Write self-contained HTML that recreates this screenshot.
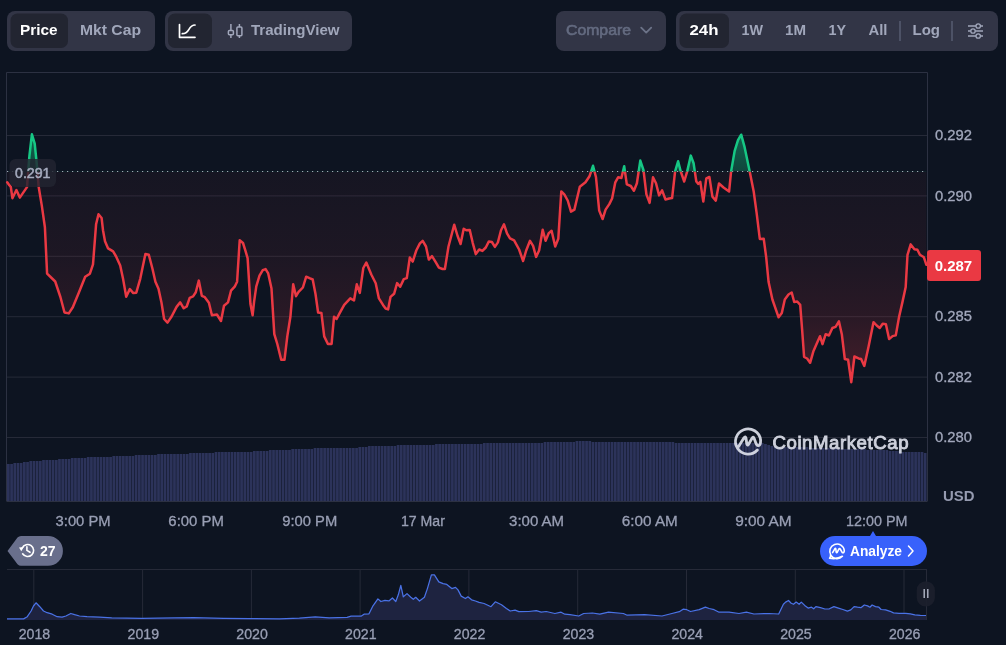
<!DOCTYPE html>
<html><head><meta charset="utf-8"><title>Chart</title>
<style>
html,body{margin:0;padding:0;background:#0d1421;width:1006px;height:645px;overflow:hidden}
body{position:relative;font-family:"Liberation Sans",Arial,sans-serif}
svg{position:absolute;left:0;top:0;display:block}
</style></head><body>
<svg width="1006" height="645" viewBox="0 0 1006 645" font-family="Liberation Sans, Arial, sans-serif">
<defs>
<linearGradient id="gr" x1="0" y1="171.5" x2="0" y2="385" gradientUnits="userSpaceOnUse">
<stop offset="0" stop-color="#ea3943" stop-opacity="0.04"/>
<stop offset="0.42" stop-color="#ea3943" stop-opacity="0.075"/>
<stop offset="0.7" stop-color="#ea3943" stop-opacity="0.135"/>
<stop offset="1" stop-color="#ea3943" stop-opacity="0.27"/>
</linearGradient>
<linearGradient id="gg" x1="0" y1="171.5" x2="0" y2="134" gradientUnits="userSpaceOnUse">
<stop offset="0" stop-color="#16c784" stop-opacity="0.28"/>
<stop offset="1" stop-color="#16c784" stop-opacity="0.45"/>
</linearGradient>
<clipPath id="above"><rect x="0" y="0" width="1006" height="171.5"/></clipPath>
<clipPath id="below"><rect x="0" y="171.5" width="1006" height="600"/></clipPath>
<clipPath id="plot"><rect x="7" y="73" width="920" height="428"/></clipPath>
</defs>

<!-- top controls -->
<rect x="7" y="11" width="148" height="40" rx="8" fill="#323546"/>
<rect x="10.5" y="13.5" width="57.5" height="34.5" rx="7" fill="#222531"/>
<text x="20" y="35" font-size="15" font-weight="bold" fill="#ffffff" textLength="37.5" lengthAdjust="spacingAndGlyphs">Price</text>
<text x="80" y="35" font-size="15" font-weight="bold" fill="#a1a7bb" textLength="61" lengthAdjust="spacingAndGlyphs">Mkt Cap</text>

<rect x="165" y="11" width="187" height="40" rx="8" fill="#323546"/>
<rect x="168" y="13.5" width="44" height="34.5" rx="7" fill="#222531"/>
<path d="M179.5 24.5 V37.3 H195 M182.3 33.7 C185.5 33.7 187.3 32.2 188.8 29.6 C190.3 27 191.8 25 195 25" fill="none" stroke="#ffffff" stroke-width="1.7" stroke-linecap="round" stroke-linejoin="round"/>
<g fill="none" stroke="#a1a7bb" stroke-width="1.5">
<path d="M230.9 24 V30.5 M230.9 34.7 V38"/><rect x="228.4" y="30.5" width="5" height="4.2" rx="1"/>
<path d="M239.4 24 V27 M239.4 35.8 V38"/><rect x="236.9" y="27" width="5" height="8.8" rx="1"/>
</g>
<text x="251" y="35" font-size="15" font-weight="bold" fill="#a1a7bb" textLength="88.5" lengthAdjust="spacingAndGlyphs">TradingView</text>

<rect x="556" y="11" width="110" height="40" rx="8" fill="#323546"/>
<text x="566" y="35" font-size="15" fill="#646b80" stroke="#646b80" stroke-width="0.6" textLength="65" lengthAdjust="spacingAndGlyphs">Compare</text>
<path d="M641.2 27.6 L646.2 32.6 L651.2 27.6" fill="none" stroke="#6c7388" stroke-width="1.8" stroke-linecap="round" stroke-linejoin="round"/>

<rect x="676" y="11" width="322" height="40" rx="8" fill="#323546"/>
<rect x="679.5" y="13.5" width="49.5" height="34.5" rx="7" fill="#222531"/>
<g font-size="15" font-weight="bold" fill="#a1a7bb">
<text x="689.5" y="35" fill="#ffffff" textLength="29" lengthAdjust="spacingAndGlyphs">24h</text>
<text x="741.5" y="35" textLength="21.5" lengthAdjust="spacingAndGlyphs">1W</text>
<text x="785" y="35" textLength="21" lengthAdjust="spacingAndGlyphs">1M</text>
<text x="828.5" y="35" textLength="17.5" lengthAdjust="spacingAndGlyphs">1Y</text>
<text x="868.5" y="35" textLength="19" lengthAdjust="spacingAndGlyphs">All</text>
<text x="912.5" y="35" textLength="27.5" lengthAdjust="spacingAndGlyphs">Log</text>
</g>
<rect x="899" y="21" width="2" height="20" fill="#4d5266"/>
<rect x="951" y="21" width="2" height="20" fill="#4d5266"/>
<g stroke="#a1a7bb" stroke-width="1.3" fill="none">
<path d="M968 26 H976 M980.4 26 H983 M968 31 H970.8 M975.2 31 H983 M968 36 H976 M980.4 36 H983"/>
<circle cx="978.2" cy="26" r="2.2"/><circle cx="973" cy="31" r="2.2"/><circle cx="978.2" cy="36" r="2.2"/>
</g>

<!-- chart frame & grid -->
<g stroke="#262a38" stroke-width="1"><line x1="7" y1="135.5" x2="927" y2="135.5"/><line x1="7" y1="195.9" x2="927" y2="195.9"/><line x1="7" y1="256.3" x2="927" y2="256.3"/><line x1="7" y1="316.7" x2="927" y2="316.7"/><line x1="7" y1="377.1" x2="927" y2="377.1"/><line x1="7" y1="437.5" x2="927" y2="437.5"/></g>
<g fill="#2c335a" clip-path="url(#plot)"><rect x="7.00" y="464" width="2.74" height="37"/><rect x="10.19" y="464" width="2.74" height="37"/><rect x="13.39" y="463" width="2.74" height="38"/><rect x="16.58" y="463" width="2.74" height="38"/><rect x="19.78" y="463" width="2.74" height="38"/><rect x="22.97" y="462" width="2.74" height="39"/><rect x="26.17" y="462" width="2.74" height="39"/><rect x="29.36" y="461" width="2.74" height="40"/><rect x="32.56" y="461" width="2.74" height="40"/><rect x="35.75" y="461" width="2.74" height="40"/><rect x="38.94" y="461" width="2.74" height="40"/><rect x="42.14" y="460" width="2.74" height="41"/><rect x="45.33" y="460" width="2.74" height="41"/><rect x="48.53" y="460" width="2.74" height="41"/><rect x="51.72" y="460" width="2.74" height="41"/><rect x="54.92" y="460" width="2.74" height="41"/><rect x="58.11" y="459" width="2.74" height="42"/><rect x="61.31" y="459" width="2.74" height="42"/><rect x="64.50" y="459" width="2.74" height="42"/><rect x="67.69" y="459" width="2.74" height="42"/><rect x="70.89" y="458" width="2.74" height="43"/><rect x="74.08" y="458" width="2.74" height="43"/><rect x="77.28" y="458" width="2.74" height="43"/><rect x="80.47" y="458" width="2.74" height="43"/><rect x="83.67" y="458" width="2.74" height="43"/><rect x="86.86" y="457" width="2.74" height="44"/><rect x="90.06" y="457" width="2.74" height="44"/><rect x="93.25" y="457" width="2.74" height="44"/><rect x="96.44" y="457" width="2.74" height="44"/><rect x="99.64" y="457" width="2.74" height="44"/><rect x="102.83" y="457" width="2.74" height="44"/><rect x="106.03" y="457" width="2.74" height="44"/><rect x="109.22" y="457" width="2.74" height="44"/><rect x="112.42" y="456" width="2.74" height="45"/><rect x="115.61" y="456" width="2.74" height="45"/><rect x="118.81" y="456" width="2.74" height="45"/><rect x="122.00" y="456" width="2.74" height="45"/><rect x="125.19" y="456" width="2.74" height="45"/><rect x="128.39" y="456" width="2.74" height="45"/><rect x="131.58" y="456" width="2.74" height="45"/><rect x="134.78" y="455" width="2.74" height="46"/><rect x="137.97" y="455" width="2.74" height="46"/><rect x="141.17" y="455" width="2.74" height="46"/><rect x="144.36" y="455" width="2.74" height="46"/><rect x="147.56" y="455" width="2.74" height="46"/><rect x="150.75" y="455" width="2.74" height="46"/><rect x="153.94" y="455" width="2.74" height="46"/><rect x="157.14" y="454" width="2.74" height="47"/><rect x="160.33" y="454" width="2.74" height="47"/><rect x="163.53" y="454" width="2.74" height="47"/><rect x="166.72" y="454" width="2.74" height="47"/><rect x="169.92" y="454" width="2.74" height="47"/><rect x="173.11" y="454" width="2.74" height="47"/><rect x="176.31" y="454" width="2.74" height="47"/><rect x="179.50" y="454" width="2.74" height="47"/><rect x="182.69" y="454" width="2.74" height="47"/><rect x="185.89" y="454" width="2.74" height="47"/><rect x="189.08" y="453" width="2.74" height="48"/><rect x="192.28" y="453" width="2.74" height="48"/><rect x="195.47" y="453" width="2.74" height="48"/><rect x="198.67" y="453" width="2.74" height="48"/><rect x="201.86" y="453" width="2.74" height="48"/><rect x="205.06" y="453" width="2.74" height="48"/><rect x="208.25" y="453" width="2.74" height="48"/><rect x="211.44" y="453" width="2.74" height="48"/><rect x="214.64" y="452" width="2.74" height="49"/><rect x="217.83" y="452" width="2.74" height="49"/><rect x="221.03" y="452" width="2.74" height="49"/><rect x="224.22" y="452" width="2.74" height="49"/><rect x="227.42" y="452" width="2.74" height="49"/><rect x="230.61" y="452" width="2.74" height="49"/><rect x="233.81" y="452" width="2.74" height="49"/><rect x="237.00" y="452" width="2.74" height="49"/><rect x="240.19" y="452" width="2.74" height="49"/><rect x="243.39" y="452" width="2.74" height="49"/><rect x="246.58" y="452" width="2.74" height="49"/><rect x="249.78" y="452" width="2.74" height="49"/><rect x="252.97" y="451" width="2.74" height="50"/><rect x="256.17" y="451" width="2.74" height="50"/><rect x="259.36" y="451" width="2.74" height="50"/><rect x="262.56" y="451" width="2.74" height="50"/><rect x="265.75" y="451" width="2.74" height="50"/><rect x="268.94" y="450" width="2.74" height="51"/><rect x="272.14" y="450" width="2.74" height="51"/><rect x="275.33" y="450" width="2.74" height="51"/><rect x="278.53" y="450" width="2.74" height="51"/><rect x="281.72" y="450" width="2.74" height="51"/><rect x="284.92" y="450" width="2.74" height="51"/><rect x="288.11" y="450" width="2.74" height="51"/><rect x="291.31" y="449" width="2.74" height="52"/><rect x="294.50" y="449" width="2.74" height="52"/><rect x="297.69" y="449" width="2.74" height="52"/><rect x="300.89" y="449" width="2.74" height="52"/><rect x="304.08" y="449" width="2.74" height="52"/><rect x="307.28" y="449" width="2.74" height="52"/><rect x="310.47" y="449" width="2.74" height="52"/><rect x="313.67" y="448" width="2.74" height="53"/><rect x="316.86" y="448" width="2.74" height="53"/><rect x="320.06" y="448" width="2.74" height="53"/><rect x="323.25" y="448" width="2.74" height="53"/><rect x="326.44" y="448" width="2.74" height="53"/><rect x="329.64" y="448" width="2.74" height="53"/><rect x="332.83" y="448" width="2.74" height="53"/><rect x="336.03" y="448" width="2.74" height="53"/><rect x="339.22" y="448" width="2.74" height="53"/><rect x="342.42" y="448" width="2.74" height="53"/><rect x="345.61" y="448" width="2.74" height="53"/><rect x="348.81" y="448" width="2.74" height="53"/><rect x="352.00" y="448" width="2.74" height="53"/><rect x="355.19" y="448" width="2.74" height="53"/><rect x="358.39" y="447" width="2.74" height="54"/><rect x="361.58" y="447" width="2.74" height="54"/><rect x="364.78" y="447" width="2.74" height="54"/><rect x="367.97" y="446" width="2.74" height="55"/><rect x="371.17" y="446" width="2.74" height="55"/><rect x="374.36" y="446" width="2.74" height="55"/><rect x="377.56" y="446" width="2.74" height="55"/><rect x="380.75" y="446" width="2.74" height="55"/><rect x="383.94" y="446" width="2.74" height="55"/><rect x="387.14" y="446" width="2.74" height="55"/><rect x="390.33" y="446" width="2.74" height="55"/><rect x="393.53" y="446" width="2.74" height="55"/><rect x="396.72" y="445" width="2.74" height="56"/><rect x="399.92" y="445" width="2.74" height="56"/><rect x="403.11" y="445" width="2.74" height="56"/><rect x="406.31" y="445" width="2.74" height="56"/><rect x="409.50" y="445" width="2.74" height="56"/><rect x="412.69" y="445" width="2.74" height="56"/><rect x="415.89" y="445" width="2.74" height="56"/><rect x="419.08" y="445" width="2.74" height="56"/><rect x="422.28" y="445" width="2.74" height="56"/><rect x="425.47" y="445" width="2.74" height="56"/><rect x="428.67" y="445" width="2.74" height="56"/><rect x="431.86" y="445" width="2.74" height="56"/><rect x="435.06" y="444" width="2.74" height="57"/><rect x="438.25" y="444" width="2.74" height="57"/><rect x="441.44" y="444" width="2.74" height="57"/><rect x="444.64" y="444" width="2.74" height="57"/><rect x="447.83" y="444" width="2.74" height="57"/><rect x="451.03" y="444" width="2.74" height="57"/><rect x="454.22" y="444" width="2.74" height="57"/><rect x="457.42" y="444" width="2.74" height="57"/><rect x="460.61" y="444" width="2.74" height="57"/><rect x="463.81" y="444" width="2.74" height="57"/><rect x="467.00" y="444" width="2.74" height="57"/><rect x="470.19" y="444" width="2.74" height="57"/><rect x="473.39" y="444" width="2.74" height="57"/><rect x="476.58" y="444" width="2.74" height="57"/><rect x="479.78" y="444" width="2.74" height="57"/><rect x="482.97" y="443" width="2.74" height="58"/><rect x="486.17" y="443" width="2.74" height="58"/><rect x="489.36" y="443" width="2.74" height="58"/><rect x="492.56" y="443" width="2.74" height="58"/><rect x="495.75" y="443" width="2.74" height="58"/><rect x="498.94" y="443" width="2.74" height="58"/><rect x="502.14" y="443" width="2.74" height="58"/><rect x="505.33" y="443" width="2.74" height="58"/><rect x="508.53" y="443" width="2.74" height="58"/><rect x="511.72" y="443" width="2.74" height="58"/><rect x="514.92" y="443" width="2.74" height="58"/><rect x="518.11" y="443" width="2.74" height="58"/><rect x="521.31" y="443" width="2.74" height="58"/><rect x="524.50" y="443" width="2.74" height="58"/><rect x="527.69" y="443" width="2.74" height="58"/><rect x="530.89" y="443" width="2.74" height="58"/><rect x="534.08" y="443" width="2.74" height="58"/><rect x="537.28" y="443" width="2.74" height="58"/><rect x="540.47" y="443" width="2.74" height="58"/><rect x="543.67" y="442" width="2.74" height="59"/><rect x="546.86" y="442" width="2.74" height="59"/><rect x="550.06" y="442" width="2.74" height="59"/><rect x="553.25" y="442" width="2.74" height="59"/><rect x="556.44" y="442" width="2.74" height="59"/><rect x="559.64" y="442" width="2.74" height="59"/><rect x="562.83" y="442" width="2.74" height="59"/><rect x="566.03" y="442" width="2.74" height="59"/><rect x="569.22" y="442" width="2.74" height="59"/><rect x="572.42" y="442" width="2.74" height="59"/><rect x="575.61" y="441" width="2.74" height="60"/><rect x="578.81" y="441" width="2.74" height="60"/><rect x="582.00" y="441" width="2.74" height="60"/><rect x="585.19" y="441" width="2.74" height="60"/><rect x="588.39" y="441" width="2.74" height="60"/><rect x="591.58" y="442" width="2.74" height="59"/><rect x="594.78" y="442" width="2.74" height="59"/><rect x="597.97" y="442" width="2.74" height="59"/><rect x="601.17" y="442" width="2.74" height="59"/><rect x="604.36" y="442" width="2.74" height="59"/><rect x="607.56" y="442" width="2.74" height="59"/><rect x="610.75" y="442" width="2.74" height="59"/><rect x="613.94" y="442" width="2.74" height="59"/><rect x="617.14" y="442" width="2.74" height="59"/><rect x="620.33" y="442" width="2.74" height="59"/><rect x="623.53" y="442" width="2.74" height="59"/><rect x="626.72" y="442" width="2.74" height="59"/><rect x="629.92" y="442" width="2.74" height="59"/><rect x="633.11" y="442" width="2.74" height="59"/><rect x="636.31" y="442" width="2.74" height="59"/><rect x="639.50" y="442" width="2.74" height="59"/><rect x="642.69" y="442" width="2.74" height="59"/><rect x="645.89" y="442" width="2.74" height="59"/><rect x="649.08" y="442" width="2.74" height="59"/><rect x="652.28" y="442" width="2.74" height="59"/><rect x="655.47" y="442" width="2.74" height="59"/><rect x="658.67" y="442" width="2.74" height="59"/><rect x="661.86" y="442" width="2.74" height="59"/><rect x="665.06" y="442" width="2.74" height="59"/><rect x="668.25" y="442" width="2.74" height="59"/><rect x="671.44" y="442" width="2.74" height="59"/><rect x="674.64" y="443" width="2.74" height="58"/><rect x="677.83" y="443" width="2.74" height="58"/><rect x="681.03" y="443" width="2.74" height="58"/><rect x="684.22" y="443" width="2.74" height="58"/><rect x="687.42" y="443" width="2.74" height="58"/><rect x="690.61" y="443" width="2.74" height="58"/><rect x="693.81" y="443" width="2.74" height="58"/><rect x="697.00" y="443" width="2.74" height="58"/><rect x="700.19" y="443" width="2.74" height="58"/><rect x="703.39" y="443" width="2.74" height="58"/><rect x="706.58" y="443" width="2.74" height="58"/><rect x="709.78" y="443" width="2.74" height="58"/><rect x="712.97" y="443" width="2.74" height="58"/><rect x="716.17" y="443" width="2.74" height="58"/><rect x="719.36" y="443" width="2.74" height="58"/><rect x="722.56" y="443" width="2.74" height="58"/><rect x="725.75" y="443" width="2.74" height="58"/><rect x="728.94" y="443" width="2.74" height="58"/><rect x="732.14" y="443" width="2.74" height="58"/><rect x="735.33" y="443" width="2.74" height="58"/><rect x="738.53" y="443" width="2.74" height="58"/><rect x="741.72" y="443" width="2.74" height="58"/><rect x="744.92" y="443" width="2.74" height="58"/><rect x="748.11" y="443" width="2.74" height="58"/><rect x="751.31" y="443" width="2.74" height="58"/><rect x="754.50" y="443" width="2.74" height="58"/><rect x="757.69" y="443" width="2.74" height="58"/><rect x="760.89" y="443" width="2.74" height="58"/><rect x="764.08" y="444" width="2.74" height="57"/><rect x="767.28" y="445" width="2.74" height="56"/><rect x="770.47" y="446" width="2.74" height="55"/><rect x="773.67" y="447" width="2.74" height="54"/><rect x="776.86" y="447" width="2.74" height="54"/><rect x="780.06" y="447" width="2.74" height="54"/><rect x="783.25" y="447" width="2.74" height="54"/><rect x="786.44" y="447" width="2.74" height="54"/><rect x="789.64" y="447" width="2.74" height="54"/><rect x="792.83" y="447" width="2.74" height="54"/><rect x="796.03" y="447" width="2.74" height="54"/><rect x="799.22" y="447" width="2.74" height="54"/><rect x="802.42" y="447" width="2.74" height="54"/><rect x="805.61" y="447" width="2.74" height="54"/><rect x="808.81" y="448" width="2.74" height="53"/><rect x="812.00" y="448" width="2.74" height="53"/><rect x="815.19" y="448" width="2.74" height="53"/><rect x="818.39" y="448" width="2.74" height="53"/><rect x="821.58" y="448" width="2.74" height="53"/><rect x="824.78" y="448" width="2.74" height="53"/><rect x="827.97" y="448" width="2.74" height="53"/><rect x="831.17" y="448" width="2.74" height="53"/><rect x="834.36" y="448" width="2.74" height="53"/><rect x="837.56" y="449" width="2.74" height="52"/><rect x="840.75" y="449" width="2.74" height="52"/><rect x="843.94" y="449" width="2.74" height="52"/><rect x="847.14" y="449" width="2.74" height="52"/><rect x="850.33" y="449" width="2.74" height="52"/><rect x="853.53" y="449" width="2.74" height="52"/><rect x="856.72" y="449" width="2.74" height="52"/><rect x="859.92" y="449" width="2.74" height="52"/><rect x="863.11" y="449" width="2.74" height="52"/><rect x="866.31" y="450" width="2.74" height="51"/><rect x="869.50" y="450" width="2.74" height="51"/><rect x="872.69" y="450" width="2.74" height="51"/><rect x="875.89" y="450" width="2.74" height="51"/><rect x="879.08" y="450" width="2.74" height="51"/><rect x="882.28" y="450" width="2.74" height="51"/><rect x="885.47" y="450" width="2.74" height="51"/><rect x="888.67" y="451" width="2.74" height="50"/><rect x="891.86" y="451" width="2.74" height="50"/><rect x="895.06" y="451" width="2.74" height="50"/><rect x="898.25" y="451" width="2.74" height="50"/><rect x="901.44" y="452" width="2.74" height="49"/><rect x="904.64" y="452" width="2.74" height="49"/><rect x="907.83" y="452" width="2.74" height="49"/><rect x="911.03" y="452" width="2.74" height="49"/><rect x="914.22" y="452" width="2.74" height="49"/><rect x="917.42" y="452" width="2.74" height="49"/><rect x="920.61" y="452" width="2.74" height="49"/><rect x="923.81" y="453" width="2.74" height="48"/></g>
<g fill="none" stroke="#2c3142" stroke-width="1">
<path d="M6.5 501 V72.5 H927.5 V501"/>
<line x1="6.5" y1="501.5" x2="927.5" y2="501.5"/>
</g>

<!-- watermark -->
<g opacity="0.93">
<path d="M757.4 450 A12.6 12.6 0 1 1 760.6 440 Q760.8 446 758 445.6 Q757 445.4 756 443.5 L754.2 438.5 Q753.2 436 752 438.3 L748.6 444.3 Q747.4 446.2 746.8 444 L746 438.2 Q745.4 435.8 744 437.8 L738.6 446.5" fill="none" stroke="#dcdfea" stroke-width="2.8" stroke-linecap="round" stroke-linejoin="round"/>
<text x="772.5" y="449" font-size="18.6" fill="#dcdfea" stroke="#dcdfea" stroke-width="0.9" textLength="136" lengthAdjust="spacing">CoinMarketCap</text>
</g>

<!-- price fill + line -->
<path d="M7.2 182.2 L9.3 185.2 L10.8 186.8 L12.4 198.2 L16.4 190.0 L19.8 197.6 L27.0 187.1 L29.4 156.0 L31.9 134.3 L34.7 143.6 L36.6 162.2 L38.7 187.0 L41.8 205.6 L44.9 227.3 L47.1 273.7 L51.1 277.5 L55.2 281.5 L60.4 297.0 L64.5 312.5 L68.8 313.4 L72.8 307.2 L79.0 292.3 L85.2 276.8 L89.9 273.7 L93.0 264.4 L96.1 224.2 L98.5 214.2 L101.6 218.0 L103.0 230.2 L105.0 241.3 L108.1 248.4 L113.1 251.4 L116.1 256.5 L120.2 265.5 L123.2 279.6 L126.2 296.8 L129.8 289.1 L133.3 293.1 L136.3 292.7 L140.3 278.6 L145.4 254.0 L148.8 254.8 L152.4 268.5 L155.4 281.7 L158.5 288.7 L161.5 302.8 L164.1 319.0 L167.5 322.6 L171.6 316.5 L176.6 306.9 L180.2 302.4 L183.7 308.3 L186.7 306.5 L189.7 297.8 L193.1 296.4 L195.8 292.3 L198.8 280.6 L201.8 295.8 L204.8 297.2 L208.9 302.8 L211.9 315.3 L216.9 314.5 L221.0 321.0 L224.0 305.8 L228.0 302.4 L231.0 290.7 L234.7 286.7 L237.1 281.7 L239.7 240.3 L243.0 243.0 L245.4 250.6 L247.6 258.2 L249.1 282.1 L250.4 303.8 L252.6 315.3 L254.1 301.6 L256.3 286.4 L259.5 275.6 L262.8 270.2 L265.6 269.1 L268.2 273.4 L271.5 288.6 L274.3 334.2 L277.3 344.0 L281.2 359.8 L284.5 359.8 L287.3 336.4 L290.4 316.8 L293.2 284.3 L296.0 296.2 L298.6 291.9 L302.9 287.5 L306.2 276.7 L309.5 278.2 L312.7 279.5 L315.5 294.0 L318.1 312.5 L321.4 312.9 L324.2 336.4 L327.9 344.0 L331.6 344.0 L334.0 316.8 L336.6 319.0 L339.8 312.9 L344.2 304.9 L350.3 298.4 L354.0 300.5 L356.8 284.3 L359.8 292.9 L363.3 268.0 L366.3 262.6 L371.3 274.5 L375.7 283.2 L378.9 298.4 L383.0 304.9 L385.6 308.5 L388.1 309.4 L390.5 296.9 L394.1 293.8 L397.1 283.1 L400.2 286.8 L403.8 279.1 L406.8 278.1 L409.8 257.5 L412.7 261.6 L416.3 250.5 L419.9 243.4 L422.7 240.8 L426.0 246.5 L428.8 259.6 L432.0 256.1 L435.4 261.6 L438.9 267.6 L442.5 269.0 L444.9 269.0 L448.5 246.5 L454.2 224.7 L457.6 236.0 L460.6 244.0 L463.7 228.7 L466.3 230.3 L469.7 229.9 L472.7 242.8 L475.8 254.1 L479.2 249.5 L482.4 250.9 L485.8 247.5 L488.9 241.4 L491.9 242.0 L494.9 246.9 L497.9 242.4 L501.0 230.3 L504.0 224.3 L507.0 233.3 L510.0 238.4 L514.1 240.4 L519.1 249.5 L523.1 261.0 L526.2 250.5 L530.0 240.8 L533.1 245.8 L536.1 256.9 L539.1 250.5 L542.7 229.7 L545.6 240.8 L548.8 233.1 L551.6 230.7 L555.2 246.5 L558.3 238.8 L561.3 191.4 L564.3 194.4 L567.7 200.5 L571.0 211.6 L574.4 209.6 L579.8 186.8 L585.5 182.3 L589.5 176.3 L593.0 165.8 L596.0 177.3 L599.2 210.6 L602.6 219.0 L605.6 209.6 L609.3 204.1 L612.1 198.5 L615.3 182.3 L618.1 177.3 L621.4 177.9 L624.2 166.2 L626.8 184.4 L630.8 186.0 L633.9 190.8 L636.9 183.3 L640.3 160.6 L643.5 170.2 L646.4 194.4 L649.6 202.9 L653.0 177.3 L656.0 183.3 L659.1 195.4 L662.1 190.4 L665.5 199.5 L669.2 198.5 L672.1 198.0 L675.1 171.4 L678.1 161.3 L680.7 171.4 L684.2 181.5 L687.2 171.4 L690.8 155.6 L693.6 163.3 L696.3 181.5 L698.3 183.9 L700.3 181.9 L703.3 201.6 L706.3 178.4 L709.4 177.0 L712.4 196.6 L715.8 200.6 L719.0 183.5 L723.5 187.5 L729.1 191.5 L731.1 171.4 L734.6 151.2 L738.0 140.1 L741.2 134.7 L744.6 147.2 L749.7 171.4 L753.7 191.5 L756.7 213.7 L759.8 238.9 L763.7 238.7 L766.2 257.3 L768.6 282.1 L772.4 299.5 L778.6 317.3 L781.8 313.1 L784.8 299.5 L788.5 294.5 L791.7 292.5 L794.2 302.0 L797.2 301.5 L800.2 304.9 L802.1 329.3 L804.1 357.0 L807.1 358.5 L810.1 362.8 L813.3 351.6 L817.0 342.9 L820.0 336.2 L822.5 344.1 L825.7 334.2 L828.9 335.5 L832.4 328.0 L835.6 326.8 L838.9 321.3 L841.8 334.2 L844.8 359.0 L848.1 359.8 L851.3 382.2 L854.4 356.5 L858.6 358.4 L861.1 358.9 L864.3 365.9 L868.6 346.5 L873.5 322.2 L876.7 325.5 L879.7 327.9 L882.7 323.7 L885.9 324.2 L889.1 339.1 L892.6 336.1 L895.8 335.4 L899.1 316.8 L902.5 301.9 L905.7 287.0 L907.5 254.8 L910.7 244.4 L914.4 249.3 L917.4 249.8 L919.9 254.8 L923.9 257.3 L926.3 264.7 L926.3 171.5 L7.2 171.5 Z" fill="url(#gr)" clip-path="url(#below)"/>
<path d="M7.2 182.2 L9.3 185.2 L10.8 186.8 L12.4 198.2 L16.4 190.0 L19.8 197.6 L27.0 187.1 L29.4 156.0 L31.9 134.3 L34.7 143.6 L36.6 162.2 L38.7 187.0 L41.8 205.6 L44.9 227.3 L47.1 273.7 L51.1 277.5 L55.2 281.5 L60.4 297.0 L64.5 312.5 L68.8 313.4 L72.8 307.2 L79.0 292.3 L85.2 276.8 L89.9 273.7 L93.0 264.4 L96.1 224.2 L98.5 214.2 L101.6 218.0 L103.0 230.2 L105.0 241.3 L108.1 248.4 L113.1 251.4 L116.1 256.5 L120.2 265.5 L123.2 279.6 L126.2 296.8 L129.8 289.1 L133.3 293.1 L136.3 292.7 L140.3 278.6 L145.4 254.0 L148.8 254.8 L152.4 268.5 L155.4 281.7 L158.5 288.7 L161.5 302.8 L164.1 319.0 L167.5 322.6 L171.6 316.5 L176.6 306.9 L180.2 302.4 L183.7 308.3 L186.7 306.5 L189.7 297.8 L193.1 296.4 L195.8 292.3 L198.8 280.6 L201.8 295.8 L204.8 297.2 L208.9 302.8 L211.9 315.3 L216.9 314.5 L221.0 321.0 L224.0 305.8 L228.0 302.4 L231.0 290.7 L234.7 286.7 L237.1 281.7 L239.7 240.3 L243.0 243.0 L245.4 250.6 L247.6 258.2 L249.1 282.1 L250.4 303.8 L252.6 315.3 L254.1 301.6 L256.3 286.4 L259.5 275.6 L262.8 270.2 L265.6 269.1 L268.2 273.4 L271.5 288.6 L274.3 334.2 L277.3 344.0 L281.2 359.8 L284.5 359.8 L287.3 336.4 L290.4 316.8 L293.2 284.3 L296.0 296.2 L298.6 291.9 L302.9 287.5 L306.2 276.7 L309.5 278.2 L312.7 279.5 L315.5 294.0 L318.1 312.5 L321.4 312.9 L324.2 336.4 L327.9 344.0 L331.6 344.0 L334.0 316.8 L336.6 319.0 L339.8 312.9 L344.2 304.9 L350.3 298.4 L354.0 300.5 L356.8 284.3 L359.8 292.9 L363.3 268.0 L366.3 262.6 L371.3 274.5 L375.7 283.2 L378.9 298.4 L383.0 304.9 L385.6 308.5 L388.1 309.4 L390.5 296.9 L394.1 293.8 L397.1 283.1 L400.2 286.8 L403.8 279.1 L406.8 278.1 L409.8 257.5 L412.7 261.6 L416.3 250.5 L419.9 243.4 L422.7 240.8 L426.0 246.5 L428.8 259.6 L432.0 256.1 L435.4 261.6 L438.9 267.6 L442.5 269.0 L444.9 269.0 L448.5 246.5 L454.2 224.7 L457.6 236.0 L460.6 244.0 L463.7 228.7 L466.3 230.3 L469.7 229.9 L472.7 242.8 L475.8 254.1 L479.2 249.5 L482.4 250.9 L485.8 247.5 L488.9 241.4 L491.9 242.0 L494.9 246.9 L497.9 242.4 L501.0 230.3 L504.0 224.3 L507.0 233.3 L510.0 238.4 L514.1 240.4 L519.1 249.5 L523.1 261.0 L526.2 250.5 L530.0 240.8 L533.1 245.8 L536.1 256.9 L539.1 250.5 L542.7 229.7 L545.6 240.8 L548.8 233.1 L551.6 230.7 L555.2 246.5 L558.3 238.8 L561.3 191.4 L564.3 194.4 L567.7 200.5 L571.0 211.6 L574.4 209.6 L579.8 186.8 L585.5 182.3 L589.5 176.3 L593.0 165.8 L596.0 177.3 L599.2 210.6 L602.6 219.0 L605.6 209.6 L609.3 204.1 L612.1 198.5 L615.3 182.3 L618.1 177.3 L621.4 177.9 L624.2 166.2 L626.8 184.4 L630.8 186.0 L633.9 190.8 L636.9 183.3 L640.3 160.6 L643.5 170.2 L646.4 194.4 L649.6 202.9 L653.0 177.3 L656.0 183.3 L659.1 195.4 L662.1 190.4 L665.5 199.5 L669.2 198.5 L672.1 198.0 L675.1 171.4 L678.1 161.3 L680.7 171.4 L684.2 181.5 L687.2 171.4 L690.8 155.6 L693.6 163.3 L696.3 181.5 L698.3 183.9 L700.3 181.9 L703.3 201.6 L706.3 178.4 L709.4 177.0 L712.4 196.6 L715.8 200.6 L719.0 183.5 L723.5 187.5 L729.1 191.5 L731.1 171.4 L734.6 151.2 L738.0 140.1 L741.2 134.7 L744.6 147.2 L749.7 171.4 L753.7 191.5 L756.7 213.7 L759.8 238.9 L763.7 238.7 L766.2 257.3 L768.6 282.1 L772.4 299.5 L778.6 317.3 L781.8 313.1 L784.8 299.5 L788.5 294.5 L791.7 292.5 L794.2 302.0 L797.2 301.5 L800.2 304.9 L802.1 329.3 L804.1 357.0 L807.1 358.5 L810.1 362.8 L813.3 351.6 L817.0 342.9 L820.0 336.2 L822.5 344.1 L825.7 334.2 L828.9 335.5 L832.4 328.0 L835.6 326.8 L838.9 321.3 L841.8 334.2 L844.8 359.0 L848.1 359.8 L851.3 382.2 L854.4 356.5 L858.6 358.4 L861.1 358.9 L864.3 365.9 L868.6 346.5 L873.5 322.2 L876.7 325.5 L879.7 327.9 L882.7 323.7 L885.9 324.2 L889.1 339.1 L892.6 336.1 L895.8 335.4 L899.1 316.8 L902.5 301.9 L905.7 287.0 L907.5 254.8 L910.7 244.4 L914.4 249.3 L917.4 249.8 L919.9 254.8 L923.9 257.3 L926.3 264.7 L926.3 171.5 L7.2 171.5 Z" fill="url(#gg)" clip-path="url(#above)"/>
<line x1="7" y1="171.5" x2="927" y2="171.5" stroke="#c5cad8" stroke-width="1.2" stroke-dasharray="1.2 3.8" opacity="0.8"/>
<path d="M7.2 182.2 L9.3 185.2 L10.8 186.8 L12.4 198.2 L16.4 190.0 L19.8 197.6 L27.0 187.1 L29.4 156.0 L31.9 134.3 L34.7 143.6 L36.6 162.2 L38.7 187.0 L41.8 205.6 L44.9 227.3 L47.1 273.7 L51.1 277.5 L55.2 281.5 L60.4 297.0 L64.5 312.5 L68.8 313.4 L72.8 307.2 L79.0 292.3 L85.2 276.8 L89.9 273.7 L93.0 264.4 L96.1 224.2 L98.5 214.2 L101.6 218.0 L103.0 230.2 L105.0 241.3 L108.1 248.4 L113.1 251.4 L116.1 256.5 L120.2 265.5 L123.2 279.6 L126.2 296.8 L129.8 289.1 L133.3 293.1 L136.3 292.7 L140.3 278.6 L145.4 254.0 L148.8 254.8 L152.4 268.5 L155.4 281.7 L158.5 288.7 L161.5 302.8 L164.1 319.0 L167.5 322.6 L171.6 316.5 L176.6 306.9 L180.2 302.4 L183.7 308.3 L186.7 306.5 L189.7 297.8 L193.1 296.4 L195.8 292.3 L198.8 280.6 L201.8 295.8 L204.8 297.2 L208.9 302.8 L211.9 315.3 L216.9 314.5 L221.0 321.0 L224.0 305.8 L228.0 302.4 L231.0 290.7 L234.7 286.7 L237.1 281.7 L239.7 240.3 L243.0 243.0 L245.4 250.6 L247.6 258.2 L249.1 282.1 L250.4 303.8 L252.6 315.3 L254.1 301.6 L256.3 286.4 L259.5 275.6 L262.8 270.2 L265.6 269.1 L268.2 273.4 L271.5 288.6 L274.3 334.2 L277.3 344.0 L281.2 359.8 L284.5 359.8 L287.3 336.4 L290.4 316.8 L293.2 284.3 L296.0 296.2 L298.6 291.9 L302.9 287.5 L306.2 276.7 L309.5 278.2 L312.7 279.5 L315.5 294.0 L318.1 312.5 L321.4 312.9 L324.2 336.4 L327.9 344.0 L331.6 344.0 L334.0 316.8 L336.6 319.0 L339.8 312.9 L344.2 304.9 L350.3 298.4 L354.0 300.5 L356.8 284.3 L359.8 292.9 L363.3 268.0 L366.3 262.6 L371.3 274.5 L375.7 283.2 L378.9 298.4 L383.0 304.9 L385.6 308.5 L388.1 309.4 L390.5 296.9 L394.1 293.8 L397.1 283.1 L400.2 286.8 L403.8 279.1 L406.8 278.1 L409.8 257.5 L412.7 261.6 L416.3 250.5 L419.9 243.4 L422.7 240.8 L426.0 246.5 L428.8 259.6 L432.0 256.1 L435.4 261.6 L438.9 267.6 L442.5 269.0 L444.9 269.0 L448.5 246.5 L454.2 224.7 L457.6 236.0 L460.6 244.0 L463.7 228.7 L466.3 230.3 L469.7 229.9 L472.7 242.8 L475.8 254.1 L479.2 249.5 L482.4 250.9 L485.8 247.5 L488.9 241.4 L491.9 242.0 L494.9 246.9 L497.9 242.4 L501.0 230.3 L504.0 224.3 L507.0 233.3 L510.0 238.4 L514.1 240.4 L519.1 249.5 L523.1 261.0 L526.2 250.5 L530.0 240.8 L533.1 245.8 L536.1 256.9 L539.1 250.5 L542.7 229.7 L545.6 240.8 L548.8 233.1 L551.6 230.7 L555.2 246.5 L558.3 238.8 L561.3 191.4 L564.3 194.4 L567.7 200.5 L571.0 211.6 L574.4 209.6 L579.8 186.8 L585.5 182.3 L589.5 176.3 L593.0 165.8 L596.0 177.3 L599.2 210.6 L602.6 219.0 L605.6 209.6 L609.3 204.1 L612.1 198.5 L615.3 182.3 L618.1 177.3 L621.4 177.9 L624.2 166.2 L626.8 184.4 L630.8 186.0 L633.9 190.8 L636.9 183.3 L640.3 160.6 L643.5 170.2 L646.4 194.4 L649.6 202.9 L653.0 177.3 L656.0 183.3 L659.1 195.4 L662.1 190.4 L665.5 199.5 L669.2 198.5 L672.1 198.0 L675.1 171.4 L678.1 161.3 L680.7 171.4 L684.2 181.5 L687.2 171.4 L690.8 155.6 L693.6 163.3 L696.3 181.5 L698.3 183.9 L700.3 181.9 L703.3 201.6 L706.3 178.4 L709.4 177.0 L712.4 196.6 L715.8 200.6 L719.0 183.5 L723.5 187.5 L729.1 191.5 L731.1 171.4 L734.6 151.2 L738.0 140.1 L741.2 134.7 L744.6 147.2 L749.7 171.4 L753.7 191.5 L756.7 213.7 L759.8 238.9 L763.7 238.7 L766.2 257.3 L768.6 282.1 L772.4 299.5 L778.6 317.3 L781.8 313.1 L784.8 299.5 L788.5 294.5 L791.7 292.5 L794.2 302.0 L797.2 301.5 L800.2 304.9 L802.1 329.3 L804.1 357.0 L807.1 358.5 L810.1 362.8 L813.3 351.6 L817.0 342.9 L820.0 336.2 L822.5 344.1 L825.7 334.2 L828.9 335.5 L832.4 328.0 L835.6 326.8 L838.9 321.3 L841.8 334.2 L844.8 359.0 L848.1 359.8 L851.3 382.2 L854.4 356.5 L858.6 358.4 L861.1 358.9 L864.3 365.9 L868.6 346.5 L873.5 322.2 L876.7 325.5 L879.7 327.9 L882.7 323.7 L885.9 324.2 L889.1 339.1 L892.6 336.1 L895.8 335.4 L899.1 316.8 L902.5 301.9 L905.7 287.0 L907.5 254.8 L910.7 244.4 L914.4 249.3 L917.4 249.8 L919.9 254.8 L923.9 257.3 L926.3 264.7" fill="none" stroke="#ea3943" stroke-width="2.5" stroke-linejoin="round" stroke-linecap="round" clip-path="url(#below)"/>
<path d="M7.2 182.2 L9.3 185.2 L10.8 186.8 L12.4 198.2 L16.4 190.0 L19.8 197.6 L27.0 187.1 L29.4 156.0 L31.9 134.3 L34.7 143.6 L36.6 162.2 L38.7 187.0 L41.8 205.6 L44.9 227.3 L47.1 273.7 L51.1 277.5 L55.2 281.5 L60.4 297.0 L64.5 312.5 L68.8 313.4 L72.8 307.2 L79.0 292.3 L85.2 276.8 L89.9 273.7 L93.0 264.4 L96.1 224.2 L98.5 214.2 L101.6 218.0 L103.0 230.2 L105.0 241.3 L108.1 248.4 L113.1 251.4 L116.1 256.5 L120.2 265.5 L123.2 279.6 L126.2 296.8 L129.8 289.1 L133.3 293.1 L136.3 292.7 L140.3 278.6 L145.4 254.0 L148.8 254.8 L152.4 268.5 L155.4 281.7 L158.5 288.7 L161.5 302.8 L164.1 319.0 L167.5 322.6 L171.6 316.5 L176.6 306.9 L180.2 302.4 L183.7 308.3 L186.7 306.5 L189.7 297.8 L193.1 296.4 L195.8 292.3 L198.8 280.6 L201.8 295.8 L204.8 297.2 L208.9 302.8 L211.9 315.3 L216.9 314.5 L221.0 321.0 L224.0 305.8 L228.0 302.4 L231.0 290.7 L234.7 286.7 L237.1 281.7 L239.7 240.3 L243.0 243.0 L245.4 250.6 L247.6 258.2 L249.1 282.1 L250.4 303.8 L252.6 315.3 L254.1 301.6 L256.3 286.4 L259.5 275.6 L262.8 270.2 L265.6 269.1 L268.2 273.4 L271.5 288.6 L274.3 334.2 L277.3 344.0 L281.2 359.8 L284.5 359.8 L287.3 336.4 L290.4 316.8 L293.2 284.3 L296.0 296.2 L298.6 291.9 L302.9 287.5 L306.2 276.7 L309.5 278.2 L312.7 279.5 L315.5 294.0 L318.1 312.5 L321.4 312.9 L324.2 336.4 L327.9 344.0 L331.6 344.0 L334.0 316.8 L336.6 319.0 L339.8 312.9 L344.2 304.9 L350.3 298.4 L354.0 300.5 L356.8 284.3 L359.8 292.9 L363.3 268.0 L366.3 262.6 L371.3 274.5 L375.7 283.2 L378.9 298.4 L383.0 304.9 L385.6 308.5 L388.1 309.4 L390.5 296.9 L394.1 293.8 L397.1 283.1 L400.2 286.8 L403.8 279.1 L406.8 278.1 L409.8 257.5 L412.7 261.6 L416.3 250.5 L419.9 243.4 L422.7 240.8 L426.0 246.5 L428.8 259.6 L432.0 256.1 L435.4 261.6 L438.9 267.6 L442.5 269.0 L444.9 269.0 L448.5 246.5 L454.2 224.7 L457.6 236.0 L460.6 244.0 L463.7 228.7 L466.3 230.3 L469.7 229.9 L472.7 242.8 L475.8 254.1 L479.2 249.5 L482.4 250.9 L485.8 247.5 L488.9 241.4 L491.9 242.0 L494.9 246.9 L497.9 242.4 L501.0 230.3 L504.0 224.3 L507.0 233.3 L510.0 238.4 L514.1 240.4 L519.1 249.5 L523.1 261.0 L526.2 250.5 L530.0 240.8 L533.1 245.8 L536.1 256.9 L539.1 250.5 L542.7 229.7 L545.6 240.8 L548.8 233.1 L551.6 230.7 L555.2 246.5 L558.3 238.8 L561.3 191.4 L564.3 194.4 L567.7 200.5 L571.0 211.6 L574.4 209.6 L579.8 186.8 L585.5 182.3 L589.5 176.3 L593.0 165.8 L596.0 177.3 L599.2 210.6 L602.6 219.0 L605.6 209.6 L609.3 204.1 L612.1 198.5 L615.3 182.3 L618.1 177.3 L621.4 177.9 L624.2 166.2 L626.8 184.4 L630.8 186.0 L633.9 190.8 L636.9 183.3 L640.3 160.6 L643.5 170.2 L646.4 194.4 L649.6 202.9 L653.0 177.3 L656.0 183.3 L659.1 195.4 L662.1 190.4 L665.5 199.5 L669.2 198.5 L672.1 198.0 L675.1 171.4 L678.1 161.3 L680.7 171.4 L684.2 181.5 L687.2 171.4 L690.8 155.6 L693.6 163.3 L696.3 181.5 L698.3 183.9 L700.3 181.9 L703.3 201.6 L706.3 178.4 L709.4 177.0 L712.4 196.6 L715.8 200.6 L719.0 183.5 L723.5 187.5 L729.1 191.5 L731.1 171.4 L734.6 151.2 L738.0 140.1 L741.2 134.7 L744.6 147.2 L749.7 171.4 L753.7 191.5 L756.7 213.7 L759.8 238.9 L763.7 238.7 L766.2 257.3 L768.6 282.1 L772.4 299.5 L778.6 317.3 L781.8 313.1 L784.8 299.5 L788.5 294.5 L791.7 292.5 L794.2 302.0 L797.2 301.5 L800.2 304.9 L802.1 329.3 L804.1 357.0 L807.1 358.5 L810.1 362.8 L813.3 351.6 L817.0 342.9 L820.0 336.2 L822.5 344.1 L825.7 334.2 L828.9 335.5 L832.4 328.0 L835.6 326.8 L838.9 321.3 L841.8 334.2 L844.8 359.0 L848.1 359.8 L851.3 382.2 L854.4 356.5 L858.6 358.4 L861.1 358.9 L864.3 365.9 L868.6 346.5 L873.5 322.2 L876.7 325.5 L879.7 327.9 L882.7 323.7 L885.9 324.2 L889.1 339.1 L892.6 336.1 L895.8 335.4 L899.1 316.8 L902.5 301.9 L905.7 287.0 L907.5 254.8 L910.7 244.4 L914.4 249.3 L917.4 249.8 L919.9 254.8 L923.9 257.3 L926.3 264.7" fill="none" stroke="#16c784" stroke-width="2.5" stroke-linejoin="round" stroke-linecap="round" clip-path="url(#above)"/>

<!-- base label -->
<rect x="9.5" y="159" width="46.5" height="28" rx="6" fill="#222531" fill-opacity="0.82"/>
<text x="15" y="178.3" font-size="14" fill="#a5abbe" stroke="#a5abbe" stroke-width="0.5" textLength="35.5" lengthAdjust="spacingAndGlyphs">0.291</text>

<!-- y labels -->
<g font-size="14" fill="#a1a7bb" stroke="#a1a7bb" stroke-width="0.3"><text x="935" y="140.1" textLength="37" lengthAdjust="spacingAndGlyphs">0.292</text><text x="935" y="200.5" textLength="37" lengthAdjust="spacingAndGlyphs">0.290</text><text x="935" y="321.3" textLength="37" lengthAdjust="spacingAndGlyphs">0.285</text><text x="935" y="381.7" textLength="37" lengthAdjust="spacingAndGlyphs">0.282</text><text x="935" y="442.1" textLength="37" lengthAdjust="spacingAndGlyphs">0.280</text></g>
<rect x="927" y="250" width="54" height="31" rx="3" fill="#ea3943"/>
<text x="934.7" y="271.2" font-size="15" font-weight="bold" fill="#ffffff" textLength="37.5" lengthAdjust="spacingAndGlyphs">0.287</text>
<text x="943" y="501" font-size="14" font-weight="bold" fill="#959bb0" textLength="31.5" lengthAdjust="spacingAndGlyphs">USD</text>

<!-- x labels -->
<g font-size="14" fill="#999fb4" stroke="#999fb4" stroke-width="0.3"><text x="83.1" y="525.8" text-anchor="middle" textLength="55" lengthAdjust="spacingAndGlyphs">3:00 PM</text><text x="196.1" y="525.8" text-anchor="middle" textLength="55.5" lengthAdjust="spacingAndGlyphs">6:00 PM</text><text x="309.7" y="525.8" text-anchor="middle" textLength="55" lengthAdjust="spacingAndGlyphs">9:00 PM</text><text x="422.9" y="525.8" text-anchor="middle" textLength="44" lengthAdjust="spacingAndGlyphs">17 Mar</text><text x="536.6" y="525.8" text-anchor="middle" textLength="55" lengthAdjust="spacingAndGlyphs">3:00 AM</text><text x="649.8" y="525.8" text-anchor="middle" textLength="56" lengthAdjust="spacingAndGlyphs">6:00 AM</text><text x="763.4" y="525.8" text-anchor="middle" textLength="56.5" lengthAdjust="spacingAndGlyphs">9:00 AM</text><text x="876.7" y="525.8" text-anchor="middle" textLength="61.5" lengthAdjust="spacingAndGlyphs">12:00 PM</text></g>

<!-- history badge -->
<path d="M7.5 551 L17.5 537.5 Q19 536 21 536 H48 A14.9 14.9 0 0 1 48 565.8 H21 Q19 565.8 17.5 564.3 Z" fill="#696f8c"/>
<g fill="none" stroke="#ffffff" stroke-width="1.6" stroke-linecap="round">
<path d="M22.2 548 A6 6 0 1 1 22.6 553.8"/>
<path d="M26.9 546.7 V550.4 L30 552.3"/>
</g>
<path d="M19 547.6 L23.8 546.9 L21.3 551.3 Z" fill="#ffffff"/>
<text x="40" y="556" font-size="14" font-weight="bold" fill="#ffffff">27</text>

<!-- analyze button -->
<path d="M870 536 L873 531 L876 536 Z" fill="#3861fb"/>
<rect x="820" y="536" width="107" height="30" rx="15" fill="#3861fb"/>
<path d="M842.4 556.3 A7.3 7.3 0 1 1 844.3 550.5 Q844.2 553.2 842.3 552.7 L840.2 549 Q839.5 548 838.8 549.2 L837.2 552.4 Q836.8 553.2 836.2 552.2 L835.8 548.8 Q835.4 548 834.8 548.8 L832.6 552.6 M842.4 556.3 Q837 559.5 829.6 558.2 Q831 556.5 830.5 554.5" fill="none" stroke="#ffffff" stroke-width="1.6" stroke-linecap="round" stroke-linejoin="round"/>
<text x="850" y="556" font-size="14" font-weight="bold" fill="#ffffff" textLength="52" lengthAdjust="spacingAndGlyphs">Analyze</text>
<path d="M908.5 546 L913 551 L908.5 556" fill="none" stroke="#ffffff" stroke-width="1.5" stroke-linecap="round" stroke-linejoin="round"/>

<!-- navigator -->
<line x1="7" y1="569.5" x2="927" y2="569.5" stroke="#262a38"/>
<g stroke="#262a38"><line x1="33.8" y1="569.5" x2="33.8" y2="620"/><line x1="142.6" y1="569.5" x2="142.6" y2="620"/><line x1="251.4" y1="569.5" x2="251.4" y2="620"/><line x1="360.1" y1="569.5" x2="360.1" y2="620"/><line x1="468.9" y1="569.5" x2="468.9" y2="620"/><line x1="577.7" y1="569.5" x2="577.7" y2="620"/><line x1="686.5" y1="569.5" x2="686.5" y2="620"/><line x1="795.3" y1="569.5" x2="795.3" y2="620"/><line x1="904.0" y1="569.5" x2="904.0" y2="620"/></g>
<path d="M7.0 618.9 L23.6 618.9 L27.3 616.7 L31.1 611.0 L33.5 606.0 L36.0 602.8 L39.8 606.7 L43.5 611.0 L47.2 612.7 L52.2 614.2 L57.2 616.7 L62.1 617.2 L65.9 616.0 L70.8 613.5 L74.6 614.7 L79.5 616.0 L87.0 616.7 L99.4 617.2 L111.8 617.9 L141.7 618.4 L174.0 617.9 L193.8 617.7 L223.7 618.4 L250.0 618.7 L279.5 618.8 L299.4 618.2 L315.3 616.8 L329.2 617.8 L347.1 617.4 L351.1 616.2 L361.0 616.2 L364.0 614.2 L369.0 613.8 L373.0 605.8 L377.9 598.9 L380.9 601.5 L384.9 600.3 L388.9 600.9 L392.4 598.0 L395.8 601.5 L398.3 594.8 L400.8 585.4 L403.3 596.8 L407.0 593.6 L410.8 597.3 L413.3 599.3 L415.7 597.3 L419.5 601.0 L424.4 597.3 L427.4 588.6 L431.4 574.9 L434.4 574.9 L438.8 581.9 L443.1 583.6 L446.8 584.4 L451.8 588.6 L455.5 587.4 L458.0 589.9 L461.2 596.1 L465.4 598.5 L467.9 596.8 L471.6 599.8 L475.4 601.0 L479.1 602.3 L484.1 603.5 L491.0 606.7 L495.3 601.8 L501.5 604.8 L506.4 608.5 L510.2 611.0 L515.1 610.2 L518.9 611.7 L528.8 611.5 L536.3 610.7 L541.2 612.2 L546.2 611.5 L554.9 613.5 L561.1 612.2 L564.8 614.2 L570.0 614.7 L578.7 616.0 L583.7 613.5 L592.4 613.0 L599.8 614.2 L608.5 612.2 L623.4 613.5 L627.2 615.2 L644.6 614.7 L662.0 616.0 L671.9 613.5 L679.3 611.7 L683.1 609.2 L686.8 609.7 L690.5 611.5 L699.2 609.7 L705.4 607.2 L709.2 608.5 L714.1 609.7 L719.1 612.2 L729.0 612.2 L739.0 613.5 L746.4 612.2 L753.9 614.0 L768.8 613.5 L778.7 614.0 L783.4 604.3 L785.6 602.1 L788.5 600.5 L791.2 603.2 L793.5 604.3 L796.2 602.1 L799.1 604.3 L801.3 602.1 L804.7 605.4 L808.1 608.1 L811.5 607.2 L813.7 608.8 L815.9 606.6 L820.4 607.7 L824.9 609.0 L829.4 608.8 L833.9 606.6 L838.4 608.1 L842.9 609.5 L847.4 611.1 L850.8 609.9 L854.1 606.6 L857.5 607.2 L860.9 607.7 L864.3 605.0 L867.6 605.9 L869.9 607.2 L872.1 605.0 L875.5 606.6 L878.9 607.2 L881.1 609.5 L885.6 609.9 L890.1 611.3 L893.5 612.9 L899.1 613.3 L905.8 613.3 L910.3 613.8 L914.8 614.9 L920.4 615.3 L926.0 615.5 L926.0 620 L7.0 620 Z" fill="#1e2340"/>
<path d="M7.0 618.9 L23.6 618.9 L27.3 616.7 L31.1 611.0 L33.5 606.0 L36.0 602.8 L39.8 606.7 L43.5 611.0 L47.2 612.7 L52.2 614.2 L57.2 616.7 L62.1 617.2 L65.9 616.0 L70.8 613.5 L74.6 614.7 L79.5 616.0 L87.0 616.7 L99.4 617.2 L111.8 617.9 L141.7 618.4 L174.0 617.9 L193.8 617.7 L223.7 618.4 L250.0 618.7 L279.5 618.8 L299.4 618.2 L315.3 616.8 L329.2 617.8 L347.1 617.4 L351.1 616.2 L361.0 616.2 L364.0 614.2 L369.0 613.8 L373.0 605.8 L377.9 598.9 L380.9 601.5 L384.9 600.3 L388.9 600.9 L392.4 598.0 L395.8 601.5 L398.3 594.8 L400.8 585.4 L403.3 596.8 L407.0 593.6 L410.8 597.3 L413.3 599.3 L415.7 597.3 L419.5 601.0 L424.4 597.3 L427.4 588.6 L431.4 574.9 L434.4 574.9 L438.8 581.9 L443.1 583.6 L446.8 584.4 L451.8 588.6 L455.5 587.4 L458.0 589.9 L461.2 596.1 L465.4 598.5 L467.9 596.8 L471.6 599.8 L475.4 601.0 L479.1 602.3 L484.1 603.5 L491.0 606.7 L495.3 601.8 L501.5 604.8 L506.4 608.5 L510.2 611.0 L515.1 610.2 L518.9 611.7 L528.8 611.5 L536.3 610.7 L541.2 612.2 L546.2 611.5 L554.9 613.5 L561.1 612.2 L564.8 614.2 L570.0 614.7 L578.7 616.0 L583.7 613.5 L592.4 613.0 L599.8 614.2 L608.5 612.2 L623.4 613.5 L627.2 615.2 L644.6 614.7 L662.0 616.0 L671.9 613.5 L679.3 611.7 L683.1 609.2 L686.8 609.7 L690.5 611.5 L699.2 609.7 L705.4 607.2 L709.2 608.5 L714.1 609.7 L719.1 612.2 L729.0 612.2 L739.0 613.5 L746.4 612.2 L753.9 614.0 L768.8 613.5 L778.7 614.0 L783.4 604.3 L785.6 602.1 L788.5 600.5 L791.2 603.2 L793.5 604.3 L796.2 602.1 L799.1 604.3 L801.3 602.1 L804.7 605.4 L808.1 608.1 L811.5 607.2 L813.7 608.8 L815.9 606.6 L820.4 607.7 L824.9 609.0 L829.4 608.8 L833.9 606.6 L838.4 608.1 L842.9 609.5 L847.4 611.1 L850.8 609.9 L854.1 606.6 L857.5 607.2 L860.9 607.7 L864.3 605.0 L867.6 605.9 L869.9 607.2 L872.1 605.0 L875.5 606.6 L878.9 607.2 L881.1 609.5 L885.6 609.9 L890.1 611.3 L893.5 612.9 L899.1 613.3 L905.8 613.3 L910.3 613.8 L914.8 614.9 L920.4 615.3 L926.0 615.5" fill="none" stroke="#4a72e6" stroke-width="1.25" stroke-linejoin="round"/>
<line x1="926.5" y1="569.5" x2="926.5" y2="620" stroke="#262a38"/>
<rect x="916.7" y="581.2" width="18.2" height="25.4" rx="9.1" fill="#1c1f2c" fill-opacity="0.9"/>
<path d="M924.2 589 V598 M927.8 589 V598" stroke="#b3b8c8" stroke-width="1.4"/>
<g font-size="14" fill="#999fb4" stroke="#999fb4" stroke-width="0.3"><text x="34.5" y="639" text-anchor="middle" textLength="31.5" lengthAdjust="spacingAndGlyphs">2018</text><text x="143.3" y="639" text-anchor="middle" textLength="31.5" lengthAdjust="spacingAndGlyphs">2019</text><text x="252.1" y="639" text-anchor="middle" textLength="31.5" lengthAdjust="spacingAndGlyphs">2020</text><text x="360.8" y="639" text-anchor="middle" textLength="31.5" lengthAdjust="spacingAndGlyphs">2021</text><text x="469.6" y="639" text-anchor="middle" textLength="31.5" lengthAdjust="spacingAndGlyphs">2022</text><text x="578.4" y="639" text-anchor="middle" textLength="31.5" lengthAdjust="spacingAndGlyphs">2023</text><text x="687.2" y="639" text-anchor="middle" textLength="31.5" lengthAdjust="spacingAndGlyphs">2024</text><text x="796.0" y="639" text-anchor="middle" textLength="31.5" lengthAdjust="spacingAndGlyphs">2025</text><text x="904.7" y="639" text-anchor="middle" textLength="31.5" lengthAdjust="spacingAndGlyphs">2026</text></g>
</svg>
</body></html>
